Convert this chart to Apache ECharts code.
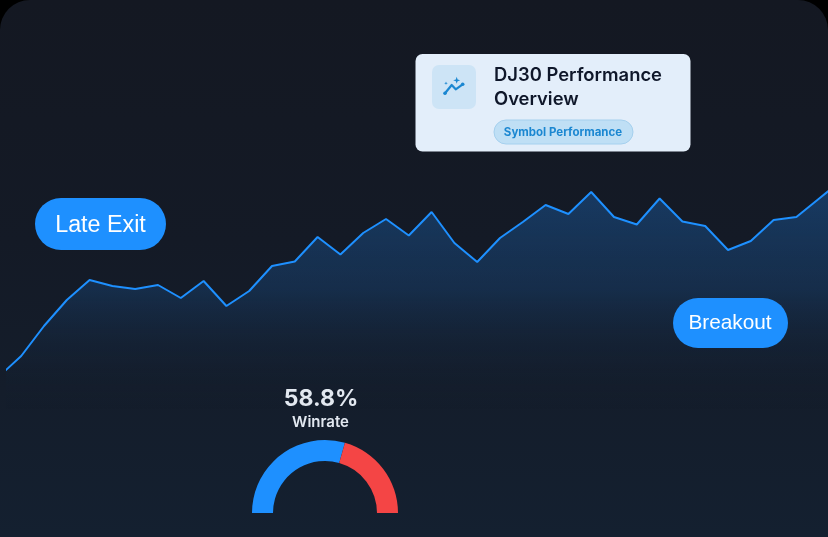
<!DOCTYPE html>
<html>
<head>
<meta charset="utf-8">
<title>DJ30 Performance Overview</title>
<script src="https://cdn.jsdelivr.net/npm/echarts@6/dist/echarts.min.js"></script>
<style>
  html, body { margin: 0; padding: 0; background: #000; }
  #chart {
    width: 828px; height: 537px;
    border-radius: 30px 30px 0 0;
    overflow: hidden;
    background: linear-gradient(180deg, #141822 0%, #141a26 45%, #142030 100%);
  }
</style>
</head>
<body>
<div id="chart"></div>
<script>
// equity curve
var equity = [160, 181, 211, 237, 257, 251, 248, 252, 239, 256, 231, 246, 271, 275.5, 300, 282.5,
  304, 318, 301.5, 325, 294, 275, 299, 315, 332, 323, 345, 320, 312.5, 338.5, 315.5, 311,
  287, 296, 317, 320, 338.5, 357];
var sessions = equity.map(function (v, i) { return [i, v]; });
var winrate = [58.8, 41.2];

var chart = echarts.init(document.getElementById('chart'));

function label(text, x, y, font, fill, align) {
  return {
    type: 'text', z: 110,
    style: { text: text, x: x, y: y, font: font, fill: fill, align: align || 'left', verticalAlign: 'middle' }
  };
}
function pill(x, y, w, h, fill, stroke) {
  return {
    type: 'rect', z: 100,
    shape: { x: x, y: y, width: w, height: h, r: h / 2 },
    style: { fill: fill, stroke: stroke || null, lineWidth: 1 }
  };
}
function star(cx, cy, r) {
  var k = r * 0.25;
  return {
    type: 'polygon', z: 110,
    shape: { points: [[cx, cy - r], [cx + k, cy - k], [cx + r, cy], [cx + k, cy + k], [cx, cy + r], [cx - k, cy + k], [cx - r, cy], [cx - k, cy - k]] },
    style: { fill: '#1b87d1' }
  };
}
function dot(cx, cy) {
  return { type: 'circle', z: 110, shape: { cx: cx, cy: cy, r: 1.8 }, style: { fill: '#1b87d1' } };
}

var option = {
  animation: false,
  grid: { left: 7, right: 0, top: 0, bottom: 0 },
  xAxis: { type: 'value', min: 0.377, max: 36.386, show: false },
  yAxis: { type: 'value', min: 0, max: 537, show: false },
  series: [
    {
      type: 'line',
      data: sessions,
      symbol: 'none',
      clip: true,
      lineStyle: { color: '#1e90ff', width: 2 },
      areaStyle: {
        origin: 'start',
        // fades out above the gauge, so the left edge of the area does not show
        color: new echarts.graphic.LinearGradient(0, 190, 0, 410, [
          { offset: 0, color: 'rgba(30,115,205,0.52)' },
          { offset: 0.45, color: 'rgba(30,110,195,0.32)' },
          { offset: 1, color: 'rgba(20,32,48,0)' }
        ], true)
      }
    },
    {
      type: 'pie',
      center: [325, 513],
      radius: [52, 73],
      startAngle: 180,
      silent: true,
      label: { show: false },
      labelLine: { show: false },
      data: [
        { value: winrate[0], itemStyle: { color: '#1e90ff' } },
        { value: winrate[1], itemStyle: { color: '#f44545' } },
        { value: winrate[0] + winrate[1], itemStyle: { color: 'none' } }
      ]
    }
  ],
  graphic: [
    pill(35, 198, 131, 52, '#1e90ff'),
    label('Late Exit', 100.5, 226, '23.3px "Liberation Sans"', '#fff', 'center'),
    pill(673, 298, 115, 50, '#1e90ff'),
    label('Breakout', 730, 323.5, '20.8px "Liberation Sans"', '#fff', 'center'),

    label('58.8%', 321, 399.5, '700 23px Inter', '#e2e8f0', 'center'),
    label('Winrate', 320.5, 422, '600 15px Inter', '#e2e8f0', 'center'),

    { type: 'rect', z: 100, shape: { x: 415.5, y: 54, width: 275, height: 97.5, r: 7 }, style: { fill: '#e3eefa' } },
    { type: 'rect', z: 105, shape: { x: 432, y: 65, width: 44, height: 44, r: 7 }, style: { fill: '#cde4f6' } },
    {
      type: 'polyline', z: 110,
      shape: { points: [[445, 93.3], [451.7, 85], [455.7, 89.3], [462.7, 84.3]] },
      style: { stroke: '#1b87d1', lineWidth: 2.2, fill: null, lineJoin: 'round', lineCap: 'round' }
    },
    dot(445, 93.3), dot(462.7, 84.3),
    star(456.7, 80.3, 3.5), star(446, 83.3, 1.8),
    label('DJ30 Performance', 494, 75.5, '600 18.4px Inter', '#0f172a'),
    label('Overview', 494, 99, '600 18.4px Inter', '#0f172a'),
    pill(494, 120, 139, 24, '#bfdff5', '#a5d0ee'),
    label('Symbol Performance', 563, 132.5, '700 11.5px Inter', '#1b87d1', 'center')
  ]
};

chart.setOption(option);
</script>
</body>
</html>
